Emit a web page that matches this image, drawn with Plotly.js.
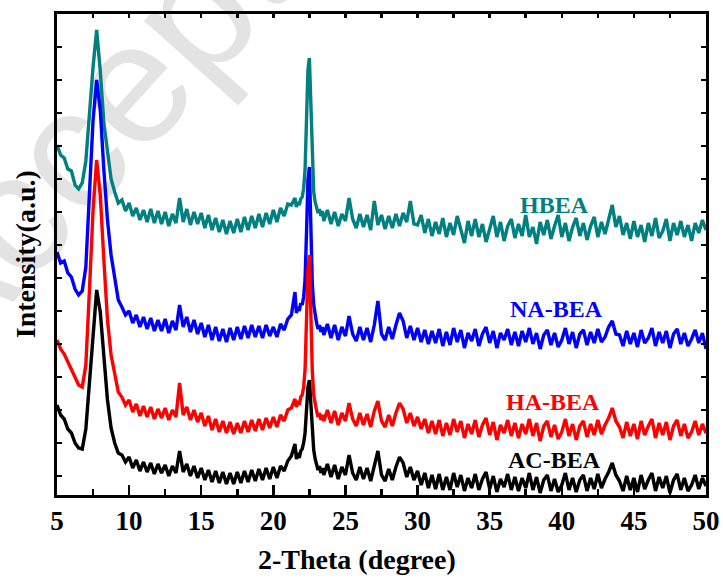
<!DOCTYPE html>
<html><head><meta charset="utf-8">
<script src="https://cdn.plot.ly/plotly-3.0.1.min.js"></script>
<style>
html,body{margin:0;padding:0;background:#fff;}
#wm{position:absolute;left:0;top:0;width:723px;height:580px;overflow:hidden;z-index:0;}
#wm span{position:absolute;left:-170px;top:268px;font-family:"Liberation Sans",Arial,sans-serif;font-size:172px;color:#e3e3e3;white-space:nowrap;transform-origin:0 0;transform:rotate(-48deg);}
#chart{position:absolute;left:0;top:0;width:723px;height:580px;z-index:1;}
</style></head><body>
<div id="wm"><span>Accepted</span></div>
<div id="chart"></div>
<script>
// 2-Theta positions (degree)
const twoTheta = [
5,5.25,5.5,5.75, 6,6.25,6.5,6.75, 7,7.25,7.5,7.75, 8,8.25,8.5,8.75, 9,9.25,9.5,9.75,
10,10.25,10.5,10.75, 11,11.25,11.5,11.75, 12,12.25,12.5,12.75, 13,13.25,13.5,13.75, 14,14.25,14.5,14.75,
15,15.25,15.5,15.75, 16,16.25,16.5,16.75, 17,17.25,17.5,17.75, 18,18.25,18.5,18.75, 19,19.25,19.5,19.75,
20,20.25,20.5,20.75, 21,21.25,21.5,
21.6,21.7,21.8,21.9,22.0,22.1,22.2,22.3,22.4,22.5,22.6,22.7,22.8,22.9,23.0,23.1,23.2,23.3,23.4,
23.5,23.75,
24,24.25,24.5,24.75, 25,25.25,25.5,25.75, 26,26.25,26.5,26.75, 27,27.25,27.5,27.75, 28,28.25,28.5,28.75,
29,29.25,29.5,29.75, 30,30.25,30.5,30.75, 31,31.25,31.5,31.75, 32,32.25,32.5,32.75, 33,33.25,33.5,33.75,
34,34.25,34.5,34.75, 35,35.25,35.5,35.75, 36,36.25,36.5,36.75, 37,37.25,37.5,37.75, 38,38.25,38.5,38.75,
39,39.25,39.5,39.75, 40,40.25,40.5,40.75, 41,41.25,41.5,41.75, 42,42.25,42.5,42.75, 43,43.25,43.5,43.75,
44,44.25,44.5,44.75, 45,45.25,45.5,45.75, 46,46.25,46.5,46.75, 47,47.25,47.5,47.75, 48,48.25,48.5,48.75,
49,49.25,49.5,49.75, 50
];

// Intensities (a.u., stacked as in the figure)
const hbea = [
350,340,337,326, 324,310,306,312, 334,384,428,465, 424,372,343,316, 303,292,295,284,
292,279,287,275, 285,273,286,272, 284,271,283,269, 281,272,297,273, 286,270,283,271,
282,267,280,265, 277,263,275,261, 274,262,276,263, 278,265,279,267, 281,268,282,271,
285,273,287,279, 291,290,297,
288,293,290,296,298,306,325,375,425,437,385,325,303,293,288,282,286,279,284,
274,285,
271,283,269,281, 274,297,276,267, 281,268,280,265, 294,270,280,266, 279,267,281,269,
282,273,294,271, 270,280,262,276, 259,273,261,277, 258,272,260,279, 264,252,274,259,
276,258,271,253, 266,279,258,273, 254,269,276,257, 271,259,280,258, 268,251,273,260,
275,256,269,280, 258,272,254,268, 277,259,272,255, 269,278,258,273, 261,275,290,268,
279,260,272,256, 274,258,270,253, 272,259,277,257, 264,276,254,272, 260,274,258,270,
254,272,262,275, 265
];

const nabea = [
243,232,234,222, 218,206,200,204, 228,295,375,415, 385,325,275,240, 218,195,188,180,
184,172,180,168, 178,166,177,164, 175,164,176,162, 174,165,190,168, 178,163,175,161,
172,158,170,155, 168,154,166,153, 167,155,168,156, 169,157,170,158, 169,157,170,159,
168,158,171,165, 176,180,203,
182,188,184,192,190,198,215,262,315,328,272,212,190,178,172,166,170,163,168,
160,171,
157,170,155,168, 159,179,161,154, 168,155,167,153, 170,194,161,155, 168,156,170,182,
174,157,169,155, 167,153,165,151, 164,152,166,149, 163,150,167,153, 165,147,162,154,
166,149,161,168, 152,164,147,162, 155,166,150,163, 149,164,153,167, 151,162,146,160,
165,150,162,148, 155,167,151,163, 147,161,165,150, 163,152,166,153, 158,168,174,161,
160,149,164,151, 162,148,165,152, 157,167,149,163, 152,164,147,161, 166,151,162,149,
156,165,152,162, 146
];

const habea = [
155,146,141,133, 127,118,110,108, 130,205,285,335, 300,235,175,140, 120,103,98,90,
95,83,91,79, 89,78,88,76, 86,77,87,75, 85,78,112,80, 88,75,85,73,
82,69,79,65, 76,63,74,62, 73,61,72,62, 74,63,75,64, 76,65,77,67,
78,68,80,74, 85,87,96,
88,94,90,98,100,108,125,175,225,240,180,125,100,90,84,78,82,75,80,
74,85,
72,84,70,82, 74,92,76,69, 82,70,81,68, 84,94,74,68, 80,69,82,92,
86,72,82,69, 78,66,76,62, 74,61,75,59, 72,60,76,63, 74,57,71,61,
75,58,70,77, 60,73,55,70, 62,75,59,72, 57,71,61,76, 59,72,54,69,
74,58,70,56, 63,76,59,71, 55,69,74,58, 71,60,75,61, 70,77,87,74,
68,57,73,59, 71,56,74,60, 69,76,57,72, 60,73,55,69, 75,59,71,57,
63,74,60,71, 62
];

const acbea = [
90,80,76,66, 62,52,47,46, 66,115,165,205, 183,135,95,67, 52,42,40,33,
38,27,35,24, 33,23,32,21, 31,22,30,19, 29,22,44,23, 31,19,29,17,
27,15,25,13, 24,12,23,11, 22,11,23,12, 24,13,25,14, 26,15,27,16,
28,17,29,24, 34,39,51,
36,42,37,44,46,52,62,85,108,115,88,62,45,36,31,25,29,22,27,
20,31,
18,30,16,28, 20,40,22,15, 28,16,27,14, 30,44,20,14, 26,15,28,38,
32,18,28,15, 24,10,22,7, 20,6,21,5, 18,5,22,8, 20,4,17,7,
21,5,16,23, 6,19,3,16, 8,21,5,18, 4,17,7,22, 5,18,2,15,
20,4,16,3, 10,22,5,17, 3,15,20,4, 17,6,21,7, 16,23,32,20,
14,4,19,5, 17,3,20,6, 15,22,4,18, 7,19,2,15, 21,5,17,4,
10,20,6,17, 9
];

const seriesNames = ['HBEA','NA-BEA','HA-BEA','AC-BEA'];
const seriesColors = ['#008080','#0000ff','#ff0000','#000000'];
const seriesData = [hbea, nabea, habea, acbea];
// label anchor positions (2-Theta, intensity)
const labelX = [39.5, 39.6, 39.4, 39.5];
const labelY = [290, 186, 93, 35];

const serif = 'Liberation Serif, Times New Roman, serif';

const traces = seriesData.map((d,i)=>({
  x: twoTheta, y: d, type:'scatter', mode:'lines', name: seriesNames[i],
  line:{color: seriesColors[i], width:3.4}, hoverinfo:'skip'
}));

const annotations = seriesNames.map((n,i)=>({
  x: labelX[i], y: labelY[i], xref:'x', yref:'y', text: n, showarrow:false,
  font:{family: serif, size:24, color: seriesColors[i], weight:'bold'},
  xanchor:'center', yanchor:'middle'
}));
annotations.push({
  x:0.462, y:-0.135, xref:'paper', yref:'paper', text:'2-Theta (degree)', showarrow:false,
  font:{family: serif, size:28, color:'#000', weight:'bold'}, xanchor:'center', yanchor:'middle'
});
annotations.push({
  x:-0.049, y:0.501, xref:'paper', yref:'paper', text:'Intensity(a.u.)', showarrow:false, textangle:-90,
  font:{family: serif, size:28, color:'#000', weight:'bold'}, xanchor:'center', yanchor:'middle'
});

const layout = {
  width:723, height:580,
  margin:{l:57, r:17, t:14, b:85},
  paper_bgcolor:'rgba(0,0,0,0)', plot_bgcolor:'rgba(0,0,0,0)',
  showlegend:false,
  xaxis:{
    range:[5,50], tickmode:'linear', tick0:5, dtick:5,
    ticks:'inside', ticklen:10, tickwidth:2.5, tickcolor:'#000',
    showline:true, linewidth:3, linecolor:'#000', mirror:true,
    showgrid:false, zeroline:false,
    tickfont:{family: serif, size:27, color:'#000', weight:'bold'},
    minor:{dtick:2.5, ticks:'inside', ticklen:6, tickwidth:2.5, tickcolor:'#000', showgrid:false}
  },
  xaxis2:{
    overlaying:'x', side:'top', range:[5,50], tickmode:'linear', tick0:5, dtick:2.5,
    ticks:'inside', ticklen:4, tickwidth:2.5, tickcolor:'#000',
    showticklabels:false, showline:false, showgrid:false, zeroline:false
  },
  yaxis:{
    range:[0,481], tickmode:'linear', tick0:19, dtick:33,
    ticks:'inside', ticklen:5, tickwidth:2.5, tickcolor:'#000',
    showticklabels:false, showline:true, linewidth:3, linecolor:'#000', mirror:'ticks',
    showgrid:false, zeroline:false
  },
  annotations: annotations
};

traces.unshift({x:[], y:[], xaxis:'x2', yaxis:'y', type:'scatter', mode:'lines', hoverinfo:'skip', showlegend:false});

Plotly.newPlot('chart', traces, layout, {displayModeBar:false, staticPlot:true});
</script>
</body></html>
